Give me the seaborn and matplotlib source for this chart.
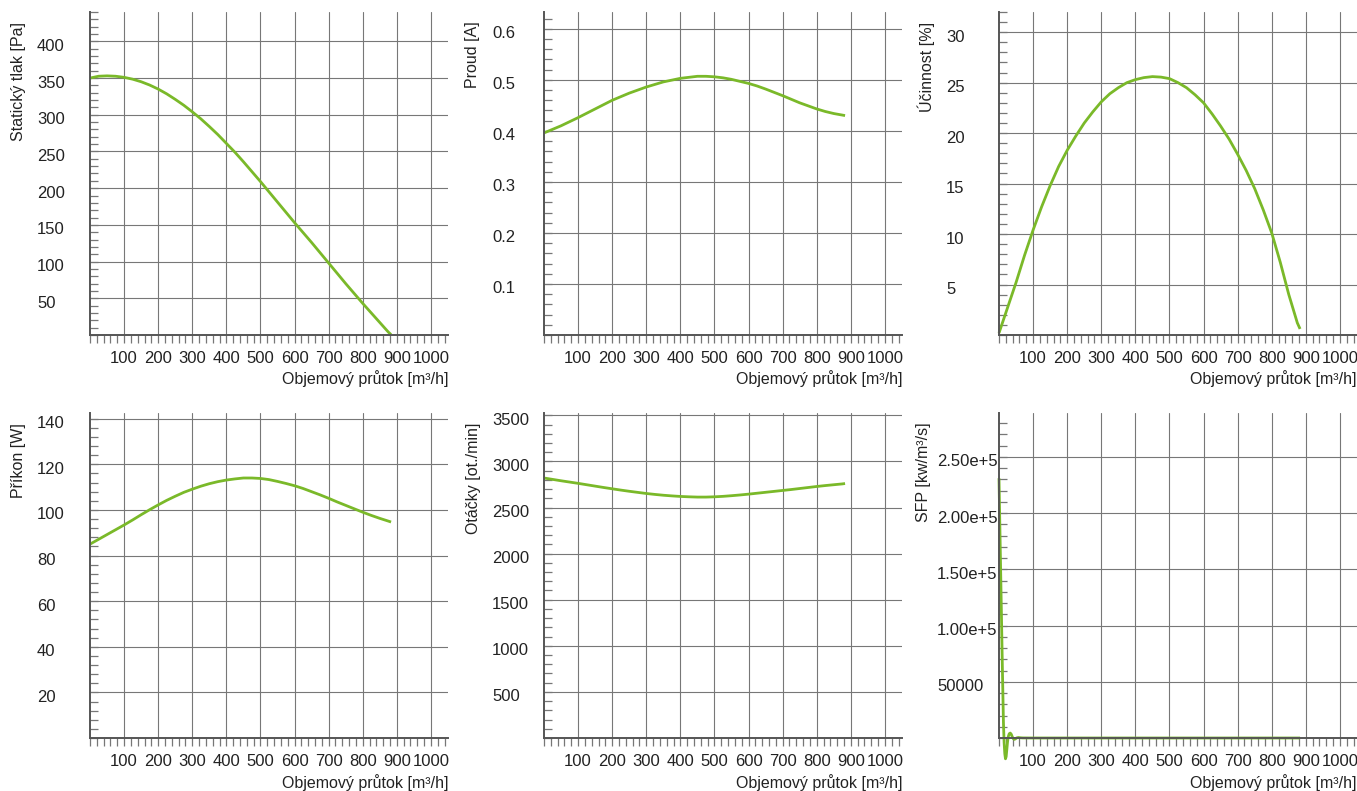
import matplotlib
matplotlib.use("Agg")
import matplotlib.pyplot as plt
import matplotlib.transforms as mtransforms
from matplotlib.ticker import AutoMinorLocator
import seaborn as sns

sns.set_theme(style="white")
plt.rcParams["font.family"] = ["Liberation Sans", "DejaVu Sans"]

# flow values [m3/h] for the fan curves
flow = [0, 25, 50, 75, 100, 125, 150, 175, 200, 225, 250, 275, 300, 325, 350, 375,
        400, 425, 450, 475, 500, 525, 550, 575, 600, 625, 650, 675, 700, 725, 750,
        775, 800, 825, 850, 875, 883]

pressure = [350, 352.5, 353, 352.5, 351, 348.5, 345, 340.5, 335, 328.5, 321, 313,
            304, 294.5, 284, 273, 261, 249, 236, 222.5, 209, 195, 181, 167, 153,
            139.5, 126, 112, 98, 84, 70, 56.5, 43, 30, 17, 4, 0.5]
current = [0.396, 0.403, 0.410, 0.418, 0.426, 0.4345, 0.443, 0.4515, 0.460, 0.467,
           0.474, 0.480, 0.486, 0.491, 0.496, 0.4995, 0.503, 0.505, 0.507, 0.507,
           0.506, 0.504, 0.501, 0.497, 0.493, 0.488, 0.482, 0.4755, 0.469, 0.462,
           0.455, 0.449, 0.443, 0.438, 0.434, 0.431, 0.430]
efficiency = [0.2, 2.7, 5.2, 7.9, 10.4, 12.7, 14.8, 16.7, 18.3, 19.7, 21.0, 22.1,
              23.1, 23.9, 24.5, 25.0, 25.3, 25.5, 25.6, 25.55, 25.4, 25.0, 24.5,
              23.8, 23.0, 21.9, 20.7, 19.4, 17.9, 16.3, 14.5, 12.4, 10.1, 7.2, 4.0,
              1.2, 0.6]
power = [85.0, 87.1, 89.2, 91.3, 93.4, 95.6, 97.9, 100.1, 102.2, 104.2, 106.0, 107.7,
         109.1, 110.4, 111.5, 112.4, 113.1, 113.6, 114.0, 114.0, 113.8, 113.3, 112.5,
         111.6, 110.6, 109.4, 108.0, 106.6, 105.1, 103.5, 102.0, 100.5, 99.0, 97.6,
         96.3, 95.1, 94.7]
rpm = [2820, 2805, 2790, 2776, 2762, 2747, 2732, 2717, 2703, 2689, 2676, 2664, 2652,
       2642, 2633, 2626, 2620, 2616, 2613, 2613, 2616, 2621, 2628, 2636, 2645, 2655,
       2665, 2675, 2685, 2695, 2706, 2717, 2728, 2738, 2747, 2756, 2760]

# SFP curve has its own flow points (overshoot near zero flow)
sfp_flow = [0, 5, 10, 13, 15, 17, 19, 21, 23, 25, 27, 30, 33, 36, 39, 42, 45, 48,
            52, 57, 63, 70, 100, 200, 300, 400, 500, 600, 700, 800, 883]
sfp = [231000, 146000, 61000, 14000, -4000, -14000, -18500, -16500, -10000, -3500,
       1000, 3800, 4400, 3300, 1000, -600, -1200, -800, 100, 450, 200, 60,
       3.4, 1.8, 1.3, 1.0, 0.8, 0.7, 0.5, 0.45, 0.39]

x_ticks = [100, 200, 300, 400, 500, 600, 700, 800, 900, 1000]
x_labels = ["100", "200", "300", "400", "500", "600", "700", "800", "900", "1000"]

pressure_ticks = [50, 100, 150, 200, 250, 300, 350, 400]
current_ticks = [0.1, 0.2, 0.3, 0.4, 0.5, 0.6]
efficiency_ticks = [5, 10, 15, 20, 25, 30]
power_ticks = [20, 40, 60, 80, 100, 120, 140]
rpm_ticks = [500, 1000, 1500, 2000, 2500, 3000, 3500]
sfp_ticks = [50000, 100000, 150000, 200000, 250000]
sfp_labels = ["50000", "1.00e+5", "1.50e+5", "2.00e+5", "2.50e+5"]

GREEN = "#7ab929"
TXT = "#222222"
FS_TICK = 12
FS_LAB = 11.5

panels = [
    dict(x=flow, y=pressure, label="Statický tlak [Pa]", ylim=440, ticks=pressure_ticks,
         tlabels=[str(v) for v in pressure_ticks], pos=(90, 12), pad=53, lx=-0.179),
    dict(x=flow, y=current, label="Proud [A]", ylim=0.633, ticks=current_ticks,
         tlabels=[f"{v:.1f}" for v in current_ticks], pos=(544, 12), pad=52, lx=-0.179),
    dict(x=flow, y=efficiency, label="Účinnost [%]", ylim=32, ticks=efficiency_ticks,
         tlabels=[str(v) for v in efficiency_ticks], pos=(999, 12), pad=53, lx=-0.179),
    dict(x=flow, y=power, label="Příkon [W]", ylim=142.5, ticks=power_ticks,
         tlabels=[str(v) for v in power_ticks], pos=(90, 413), pad=53, lx=-0.18),
    dict(x=flow, y=rpm, label="Otáčky [ot./min]", ylim=3525, ticks=rpm_ticks,
         tlabels=[str(v) for v in rpm_ticks], pos=(544, 413), pad=52, lx=-0.176),
    dict(x=sfp_flow, y=sfp, label="SFP [kw/m³/s]", ylim=289000, ticks=sfp_ticks,
         tlabels=sfp_labels, pos=(999, 413), pad=62, lx=-0.19),
]

W, H = 1357, 791
fig = plt.figure(figsize=(W / 100, H / 100), dpi=100)
fig.patch.set_facecolor("white")

for p in panels:
    left, top = p["pos"]
    h = 323 if top < 100 else 325
    ax = fig.add_axes([left / W, (H - top - h) / H, 358 / W, h / H])
    sns.lineplot(x=p["x"], y=p["y"], ax=ax, color=GREEN, linewidth=2.0, errorbar=None)
    ax.lines[-1].set_clip_on(False)
    ax.lines[-1].set_solid_capstyle("butt")
    ax.lines[-1].set_solid_joinstyle("round")

    ax.set_xlim(0, 1050)
    ax.set_ylim(0, p["ylim"])
    ax.set_xticks(x_ticks)
    ax.set_xticklabels(x_labels)
    ax.set_yticks(p["ticks"])
    ax.set_yticklabels(p["tlabels"])
    ax.xaxis.set_minor_locator(AutoMinorLocator(5))
    ax.yaxis.set_minor_locator(AutoMinorLocator(5))

    ax.grid(True, which="major", color="#777777", linewidth=0.8)
    ax.set_facecolor("white")
    for s in ["top", "right"]:
        ax.spines[s].set_visible(False)
    for s in ["left", "bottom"]:
        ax.spines[s].set_color("#555555")
        ax.spines[s].set_linewidth(1.4)

    ax.tick_params(axis="x", which="both", direction="out", length=6, width=0.9,
                   color="#777777", pad=5.5, labelsize=FS_TICK, labelcolor=TXT, bottom=True)
    ax.tick_params(axis="y", which="both", direction="in", length=6, width=0.9,
                   color="#777777", pad=p["pad"] * 0.72, labelsize=FS_TICK,
                   labelcolor=TXT, left=True)

    shift = mtransforms.ScaledTranslation(0, -0.035, fig.dpi_scale_trans)
    for lbl in ax.get_yticklabels():
        lbl.set_horizontalalignment("left")
        lbl.set_transform(lbl.get_transform() + shift)

    ax.set_ylabel(p["label"], loc="top", fontsize=FS_LAB, color=TXT)
    ax.yaxis.set_label_coords(p["lx"], 0.97)
    ax.set_xlabel("Objemový průtok [m³/h]", loc="right", fontsize=FS_LAB, color=TXT)
    ax.xaxis.set_label_coords(1.0, -0.11)

fig.savefig("out.png", dpi=100, facecolor="white")
